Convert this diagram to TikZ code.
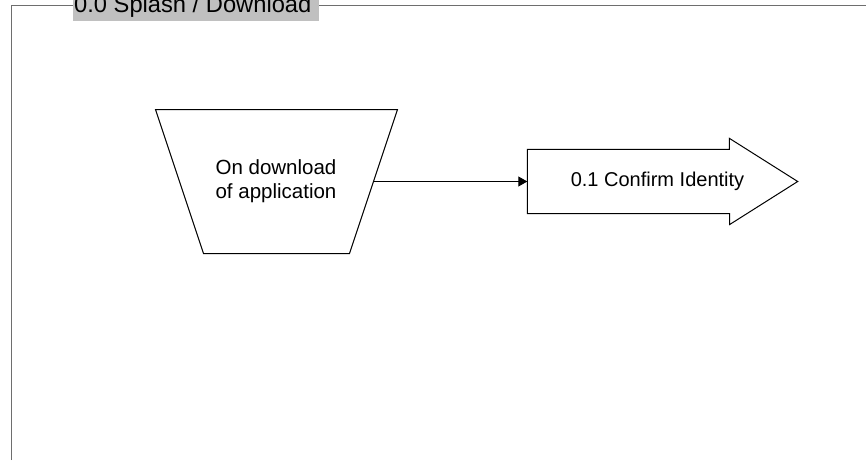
\documentclass[tikz,border=0pt]{standalone}
\usepackage{fontspec}
\setmainfont{Liberation Sans}
\usetikzlibrary{arrows.meta}
\definecolor{framegray}{HTML}{6E6E6E}
\definecolor{titlegray}{HTML}{C0C0C0}
\begin{document}
\begin{tikzpicture}[x=1pt,y=-1pt,
  frameline/.style={draw=framegray, line width=1pt},
  shapeline/.style={draw=black, line width=1pt, line join=miter},
  traptext/.style={inner sep=0pt, align=center, font=\fontsize{20.5}{23.5}\selectfont},
  confbox/.style={rectangle, minimum width=260pt, minimum height=64pt,
    inner sep=0pt, font=\fontsize{20}{24}\selectfont},
  link/.style={draw=black, line width=1pt, -{Triangle[length=9pt,width=10pt]}}
]
\useasboundingbox (0,0) rectangle (866,460);
\clip (0,0) rectangle (866,460);
% frame
\draw[frameline] (11.5,460) -- (11.5,5.5) -- (866,5.5);
\fill[titlegray] (73,-10) rectangle (319,20.7);
\node[anchor=base west, inner sep=0pt, font=\fontsize{23.7}{28}\selectfont] (title) at (74,13) {0.0 Splash / Download};
% trapezoid
\draw[shapeline] (155.5,109.5) -- (397.5,109.5) -- (349.5,253.5) -- (203.5,253.5) -- cycle;
\node[traptext] (trap) at (276,181) {On download\\of application};
\coordinate (trapR) at (373.5,181.5);
% arrow shape
\node[confbox] (conf) at (657.5,181.5) {0.1 Confirm Identity};
\draw[shapeline] (conf.north west) -- ++(202,0) -- ++(0,-11) -- ([xshift=10pt]conf.east)
  -- ++(-68,43) -- ++(0,-11) -- (conf.south west) -- cycle;
% connector
\draw[link] (trapR) -- (conf.west);
\end{tikzpicture}
\end{document}
